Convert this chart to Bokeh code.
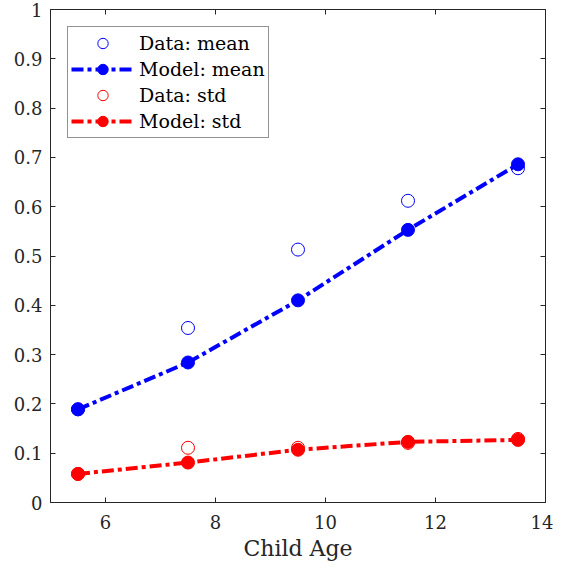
from bokeh.plotting import figure
from bokeh.models import Range1d, FixedTicker, LinearAxis, Legend, LegendItem
from bokeh.embed import file_html
from bokeh.resources import INLINE

# ---- data ----
ages = [5.5, 7.5, 9.5, 11.5, 13.5]
data_mean = [0.189, 0.354, 0.513, 0.612, 0.678]
model_mean = [0.189, 0.284, 0.410, 0.553, 0.686]
data_std = [0.058, 0.111, 0.111, 0.121, 0.129]
model_std = [0.058, 0.081, 0.107, 0.123, 0.127]

x_ticks = [6, 8, 10, 12, 14]
x_tick_labels = ["6", "8", "10", "12", "14"]
y_ticks = [0, 0.1, 0.2, 0.3, 0.4, 0.5, 0.6, 0.7, 0.8, 0.9, 1]
y_tick_labels = ["0", "0.1", "0.2", "0.3", "0.4", "0.5", "0.6", "0.7", "0.8", "0.9", "1"]

FONT = "DejaVu Serif"
AX = "#262626"

p = figure(width=553, height=563, x_range=Range1d(5, 14), y_range=Range1d(0, 1),
           output_backend="svg", toolbar_location=None,
           min_border_left=50, min_border_right=8, min_border_top=9, min_border_bottom=59)
p.xgrid.visible = False
p.ygrid.visible = False
p.outline_line_color = AX
p.outline_line_width = 1
p.background_fill_color = "white"
p.border_fill_color = "white"


def style(ax, ticks, labels, show):
    ax.ticker = FixedTicker(ticks=ticks)
    ax.major_label_overrides = {t: l for t, l in zip(ticks, labels)}
    ax.major_tick_in = 5
    ax.major_tick_out = 0
    ax.minor_tick_in = 0
    ax.minor_tick_out = 0
    ax.axis_line_color = AX
    ax.major_tick_line_color = AX
    ax.major_label_text_font = FONT
    ax.major_label_text_color = AX
    if not show:
        ax.major_label_text_font_size = "0px"
        ax.major_label_standoff = 0


style(p.xaxis[0], x_ticks, x_tick_labels, True)
p.xaxis[0].major_label_text_font_size = "18px"
p.xaxis[0].major_label_standoff = 12
p.xaxis[0].axis_label = "Child Age"
p.xaxis[0].axis_label_text_font = FONT
p.xaxis[0].axis_label_text_font_size = "22px"
p.xaxis[0].axis_label_text_font_style = "normal"
p.xaxis[0].axis_label_text_color = AX
p.xaxis[0].axis_label_standoff = 4

style(p.yaxis[0], y_ticks, y_tick_labels, True)
p.yaxis[0].major_label_text_font_size = "18px"
p.yaxis[0].major_label_standoff = 8

top_ax = LinearAxis()
style(top_ax, x_ticks, ["" for _ in x_ticks], False)
p.add_layout(top_ax, "above")
right_ax = LinearAxis()
style(right_ax, y_ticks, ["" for _ in y_ticks], False)
p.add_layout(right_ax, "right")

DASH = "12 4 4 4"
blue = "#0000ff"
red = "#ff0000"

lm = p.line(ages, model_mean, line_color=blue, line_width=4, line_dash=DASH)
sm = p.scatter(ages, model_mean, marker="circle", size=13, fill_color=blue, line_color=blue)
dm = p.scatter(ages, data_mean, marker="circle", size=13, fill_color=None, line_color=blue, line_width=1)
ls = p.line(ages, model_std, line_color=red, line_width=4, line_dash=DASH)
ss = p.scatter(ages, model_std, marker="circle", size=13, fill_color=red, line_color=red)
ds = p.scatter(ages, data_std, marker="circle", size=13, fill_color=None, line_color=red, line_width=1)

legend = Legend(items=[
    LegendItem(label="Data: mean", renderers=[dm]),
    LegendItem(label="Model: mean", renderers=[lm, sm]),
    LegendItem(label="Data: std", renderers=[ds]),
    LegendItem(label="Model: std", renderers=[ls, ss]),
], location="top_left")
legend.margin = 17
legend.padding = 3
legend.spacing = 0
legend.glyph_width = 63
legend.glyph_height = 26
legend.label_height = 26
legend.label_standoff = 5
legend.label_text_font = FONT
legend.label_text_font_size = "19px"
legend.label_text_color = "black"
legend.border_line_color = AX
legend.border_line_width = 1
legend.background_fill_color = "white"
legend.background_fill_alpha = 1
p.add_layout(legend, "center")

open("out.html", "w").write(file_html(p, INLINE))
